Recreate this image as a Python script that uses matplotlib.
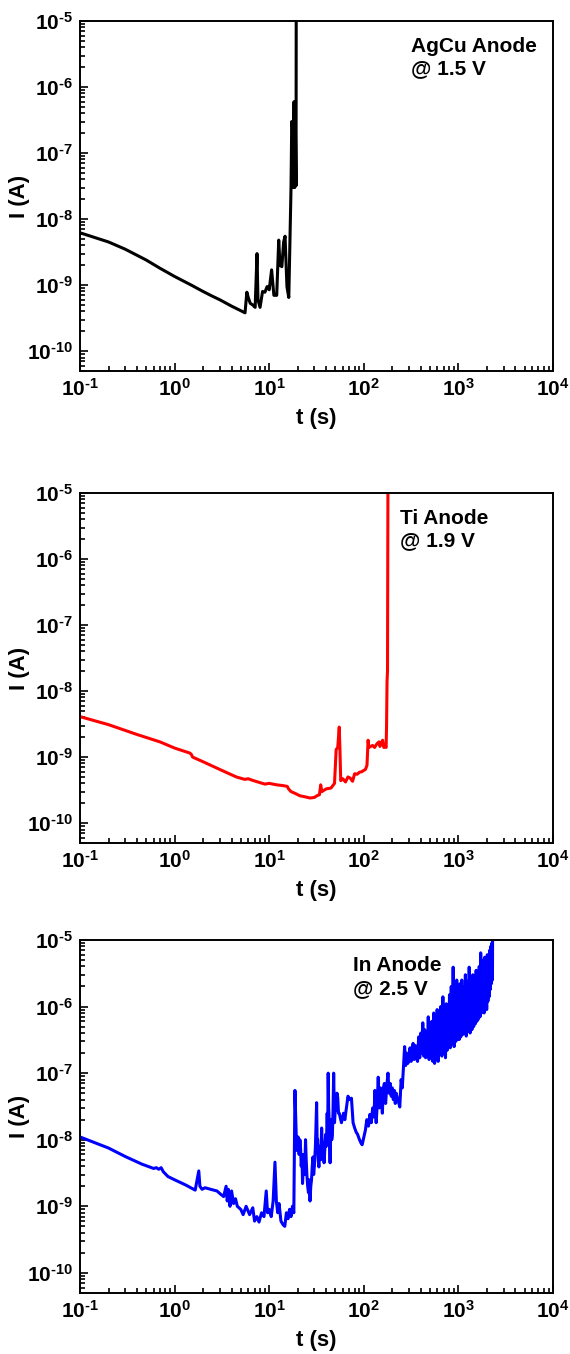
import numpy as np
import matplotlib
matplotlib.use('Agg')
import matplotlib.pyplot as plt
from matplotlib.ticker import LogLocator, FixedLocator, FuncFormatter, NullFormatter

plt.rcParams['font.family'] = ['Liberation Sans', 'DejaVu Sans']
plt.rcParams['font.weight'] = 'bold'
plt.rcParams['mathtext.fontset'] = 'custom'
plt.rcParams['mathtext.rm'] = 'Liberation Sans:bold'
plt.rcParams['mathtext.bf'] = 'Liberation Sans:bold'
plt.rcParams['mathtext.default'] = 'bf'

# AgCu anode @ 1.5 V
t_agcu = [0.1, 0.2, 0.3, 0.5, 0.7, 1.0, 1.5, 2.0, 2.5, 3.0, 4.0, 5.0, 5.55,
          5.8, 6.0, 6.3, 6.7, 7.1, 7.43, 7.6, 8.0, 8.5, 9.0, 9.5, 10.0, 10.6,
          11.2, 12.0, 12.6, 13.0, 13.6, 14.2, 14.7, 15.4, 16.1,
          17.0, 17.3, 17.6, 17.9, 18.3, 18.6, 18.9, 19.2, 19.3]
i_agcu = [6.2e-9, 4.5e-9, 3.5e-9, 2.4e-9, 1.8e-9, 1.35e-9, 1.0e-9, 8.0e-10, 6.8e-10, 6.0e-10, 4.8e-10, 4.1e-10, 3.8e-10,
          7.8e-10, 6.5e-10, 5.3e-10, 5.0e-10, 4.6e-10, 3.0e-9, 6e-10, 4.6e-10, 8e-10, 7.8e-10, 9.5e-10, 8.5e-10, 1.7e-9,
          7e-10, 7e-10, 4.8e-9, 2e-9, 1.9e-9, 4.5e-9, 5.5e-9, 9.4e-10, 6.5e-10,
          3e-8, 3e-7, 2.5e-7, 3e-8, 6e-7, 3e-8, 3e-7, 3.2e-8, 2e-5]

# Ti anode @ 1.9 V
t_ti = [0.1, 0.2, 0.4, 0.7, 1.0, 1.45, 1.5, 1.55, 2.0, 3.0, 4.5, 5.5, 6.0,
        6.5, 8.0, 9.0, 10.0, 12.0, 14.0, 15.5, 16.0, 17.0, 19.0, 21.0, 24.0,
        27.0, 30.0, 32.0, 34.0, 35.0, 36.0, 40.0, 45.0, 49.0, 51.0, 53.0,
        55.0, 56.0, 57.0, 60.0, 64, 68, 72, 76, 80, 85, 90, 95, 100, 104, 108,
        111, 113, 118, 124, 130, 138, 145, 148, 152, 158, 163, 167, 172, 174,
        176, 178, 180]
i_ti = [4.1e-9, 3.1e-9, 2.2e-9, 1.7e-9, 1.37e-9, 1.15e-9, 1.1e-9, 1.0e-9, 8.5e-10, 6.5e-10, 5.0e-10, 4.6e-10, 4.7e-10,
        4.5e-10, 4.1e-10, 3.9e-10, 4.0e-10, 3.8e-10, 3.7e-10, 3.6e-10, 3.3e-10, 3.0e-10, 2.8e-10, 2.6e-10, 2.5e-10,
        2.4e-10, 2.45e-10, 2.6e-10, 2.7e-10, 3.8e-10, 3.0e-10, 3.3e-10, 3.4e-10, 4.0e-10, 1.3e-9, 1.4e-9,
        2.85e-9, 1.2e-9, 4.4e-10, 4.7e-10, 4.2e-10, 5.0e-10, 4.8e-10, 4.3e-10, 5.6e-10, 5.5e-10, 5.9e-10, 6.0e-10, 6.3e-10, 6.5e-10, 7.5e-10,
        1.8e-9, 1.4e-9, 1.45e-9, 1.5e-9, 1.4e-9, 1.6e-9, 1.7e-9, 1.45e-9, 1.6e-9, 1.8e-9, 1.4e-9, 1.5e-9, 1.4e-9, 3e-9,
        1.4e-8, 2e-8, 2e-5]

# In anode @ 2.5 V (rows of ten, t and I aligned)
t_in = [0.1, 0.2, 0.3, 0.45, 0.6, 0.64, 0.68, 0.72, 0.76, 0.85,
        1.0, 1.3, 1.65, 1.72, 1.8, 1.85, 1.95, 2.1, 2.4, 2.8,
        3.1, 3.3, 3.5, 3.6, 3.7, 3.85, 4.0, 4.2, 4.4, 4.6,
        5.0, 5.3, 5.7, 6.2, 6.7, 7.0, 7.4, 7.8, 8.3, 8.8,
        9.3, 9.6, 10.0, 10.5, 11.0, 11.5, 11.9, 12.3, 12.7, 13.3,
        14.0, 14.6, 15.2, 15.8, 16.4, 17.0, 17.6, 18.2, 18.7, 19.5,
        20.2, 20.7, 21.1, 21.5, 21.8, 22.2, 22.5, 22.9, 23.3, 23.7,
        24.2, 24.6, 25.0, 25.5, 26.0, 26.5, 27.0, 27.5, 28.0, 28.5,
        29, 29.5, 30, 30.8, 31.7, 32.1, 32.5, 33, 33.5, 34,
        34.5, 35.1, 35.8, 36.4, 37, 37.5, 38, 38.7, 39.5, 40.2,
        41, 41.5, 42, 42.5, 43, 43.5, 44, 44.5, 45, 45.8,
        46.5, 47.2, 48, 48.5, 49, 50, 51, 52, 53, 54,
        55, 58, 61, 63, 65.6, 68, 71, 74, 77, 80,
        83, 86, 90, 93, 96, 100, 104, 107.5, 112, 116,
        120, 124, 128, 131, 135, 138, 142, 146, 150, 153,
        157, 161, 165, 170, 175, 180, 185, 190, 195, 200,
        205, 210, 215, 220, 228, 235, 240, 248, 255, 262,
        270, 277, 284, 292, 300, 308, 316, 324, 332, 340,
        350, 360, 370, 380, 390, 400, 410, 420, 430, 440,
        450, 460, 470, 480, 490, 500, 512, 524, 536, 548,
        560, 572, 584, 596, 610, 624, 638, 652, 668, 685,
        700, 715, 730, 745, 760, 775, 790, 805, 820, 840,
        860, 880, 900, 920, 940, 960, 980, 1000, 1020, 1040,
        1060, 1085, 1110, 1135, 1160, 1185, 1210, 1240, 1270, 1300,
        1330, 1360, 1390, 1420, 1450, 1480, 1510, 1540, 1570, 1600,
        1630, 1660, 1690, 1720, 1750, 1780, 1810, 1840, 1870, 1900,
        1930, 1960, 1990, 2020, 2050, 2080, 2110, 2140, 2170, 2200,
        2230, 2260, 2290, 2300]
i_in = [1.1e-8, 7.5e-9, 5.6e-9, 4.3e-9, 3.7e-9, 3.8e-9, 3.6e-9, 3.8e-9, 3.3e-9, 2.8e-9,
        2.5e-9, 2.1e-9, 1.75e-9, 2.4e-9, 3.4e-9, 2.0e-9, 1.8e-9, 1.9e-9, 1.8e-9, 1.7e-9,
        1.5e-9, 1.4e-9, 2.0e-9, 1.2e-9, 1.8e-9, 1.0e-9, 1.7e-9, 1.1e-9, 1.3e-9, 1.0e-9,
        9e-10, 7.5e-10, 1.0e-9, 7.5e-10, 9.5e-10, 6e-10, 7e-10, 5.8e-10, 8e-10, 7e-10,
        1.7e-9, 8e-10, 9e-10, 7e-10, 1.2e-9, 4.6e-9, 1.2e-9, 8e-10, 1.1e-9, 6e-10,
        5.3e-10, 5.0e-10, 8e-10, 6.5e-10, 9e-10, 7e-10, 1.0e-9, 8e-10, 5.5e-8, 6.9e-9,
        1.1e-8, 6e-9, 1e-8, 7e-9, 4e-9, 6e-9, 2.2e-9, 4e-9, 6e-9, 3e-9,
        1e-8, 5e-9, 3e-9, 2e-9, 1.6e-9, 2.5e-9, 1.2e-9, 2e-9, 2.5e-9, 4e-9,
        5.5e-9, 3e-9, 4e-9, 8e-9, 3.6e-8, 9e-9, 1e-8, 5e-9, 3.9e-9, 7e-9,
        8e-9, 5e-9, 1.5e-8, 8e-9, 6e-9, 9e-9, 4.5e-9, 7e-9, 1.2e-8, 8e-9,
        2.5e-8, 1.2e-8, 1e-7, 3e-8, 2e-8, 8e-9, 4.5e-9, 1e-8, 2e-8, 1e-8,
        1.2e-8, 2.5e-8, 1e-7, 4e-8, 1.8e-8, 3e-8, 2.8e-8, 5e-8, 4.3e-8, 2.5e-8,
        2.5e-8, 1.8e-8, 2.5e-8, 2e-8, 3.1e-8, 4.5e-8, 4e-8, 4.2e-8, 1.8e-8, 1.5e-8,
        1.3e-8, 1.2e-8, 1e-8, 9e-9, 8.4e-9, 1.1e-8, 1.4e-8, 2e-8, 1.6e-8, 2.4e-8,
        1.8e-8, 3e-8, 2.2e-8, 5.5e-8, 1.8e-8, 3e-8, 8.7e-8, 3e-8, 6e-8, 4.5e-8,
        2.5e-8, 6e-8, 7e-8, 3.5e-8, 6.5e-8, 1e-7, 5e-8, 7e-8, 4.5e-8, 6e-8,
        4e-8, 5.5e-8, 3.5e-8, 5e-8, 4e-8, 3.5e-8, 3.1e-8, 8e-8, 6e-8, 1.2e-7,
        2.5e-7, 1.3e-7, 2e-7, 1.4e-7, 1.6e-7, 2.4e-7, 1.5e-7, 2.2e-7, 2.8e-7, 1.6e-7,
        2.6e-7, 1.7e-7, 1.5e-7, 3.5e-7, 1.7e-7, 4e-7, 2e-7, 5.7e-7, 1.8e-7, 4.5e-7,
        1.7e-7, 3.5e-7, 1.8e-7, 7e-7, 1.6e-7, 5e-7, 2.2e-7, 6e-7, 1.5e-7, 8e-7,
        1.4e-7, 5e-7, 1.6e-7, 9e-7, 1.5e-7, 7e-7, 2e-7, 1e-6, 1.8e-7, 1.4e-6,
        2e-7, 8e-7, 1.7e-7, 1.1e-6, 2.2e-7, 9e-7, 2.5e-7, 1.5e-6, 2.4e-7, 2e-6,
        2.8e-7, 3.9e-6, 2.5e-7, 1.8e-6, 3e-7, 2.5e-6, 3.2e-7, 1.6e-6, 3.2e-7, 2.2e-6,
        3.5e-7, 2.5e-6, 3.8e-7, 2e-6, 4e-7, 3e-6, 3.6e-7, 2.4e-6, 4.2e-7, 3.9e-6,
        4e-7, 2.6e-6, 4.5e-7, 3e-6, 5e-7, 2.2e-6, 5.5e-7, 3.5e-6, 6e-7, 3e-6,
        6.5e-7, 4e-6, 7e-7, 6.4e-6, 8e-7, 4e-6, 9e-7, 5e-6, 8e-7, 5.5e-6,
        1e-6, 4.5e-6, 9e-7, 6e-6, 1.2e-6, 5e-6, 1.4e-6, 7e-6, 1.8e-6, 8e-6,
        2.2e-6, 9e-6, 2.5e-6, 2e-5]

x_major = [0.1, 1, 10, 100, 1000, 10000]
y_major = [1e-10, 1e-9, 1e-8, 1e-7, 1e-6, 1e-5]

series = [
    (t_agcu, i_agcu, 'black', 'AgCu Anode\n@ 1.5 V', 0.70),
    (t_ti, i_ti, 'red', 'Ti Anode\n@ 1.9 V', 0.677),
    (t_in, i_in, 'blue', 'In Anode\n@ 2.5 V', 0.577),
]


def pow10(v, pos):
    e = int(round(np.log10(v)))
    s = str(e).replace('-', r'\text{-}')
    return r'$10^{%s}$' % s


fig = plt.figure(figsize=(5.7, 13.54), dpi=100)
positions = [[0.1404, 0.726, 0.8298, 0.2585],
             [0.1404, 0.3774, 0.8298, 0.2585],
             [0.1404, 0.0451, 0.8298, 0.2607]]

for pos, (t, cur, col, label, tx) in zip(positions, series):
    ax = fig.add_axes(pos)
    ax.plot(t, cur, color=col, lw=2.2)
    ax.set_xscale('log')
    ax.set_yscale('log')
    ax.set_xlim(0.1, 1e4)
    ax.set_ylim(5e-11, 1e-5)
    ax.xaxis.set_major_locator(FixedLocator(x_major))
    ax.yaxis.set_major_locator(FixedLocator(y_major))
    ax.xaxis.set_minor_locator(LogLocator(base=10, subs=np.arange(2, 10), numticks=20))
    ax.yaxis.set_minor_locator(LogLocator(base=10, subs=np.arange(2, 10), numticks=20))
    ax.xaxis.set_minor_formatter(NullFormatter())
    ax.yaxis.set_minor_formatter(NullFormatter())
    ax.xaxis.set_major_formatter(FuncFormatter(pow10))
    ax.yaxis.set_major_formatter(FuncFormatter(pow10))
    ax.tick_params(which='both', direction='in', top=False, right=False,
                   labelsize=15, width=1.2)
    ax.tick_params(which='major', length=6, pad=5)
    ax.tick_params(which='minor', length=3.5)
    for s in ax.spines.values():
        s.set_linewidth(1.4)
    ax.set_xlabel('t (s)', fontsize=16, fontweight='bold', labelpad=6)
    ax.set_ylabel('I (A)', fontsize=16, fontweight='bold', labelpad=-2)
    ax.text(tx, 0.955, label, transform=ax.transAxes, fontsize=15,
            fontweight='bold', va='top', ha='left', linespacing=1.25)

plt.savefig('out.png', dpi=100)
